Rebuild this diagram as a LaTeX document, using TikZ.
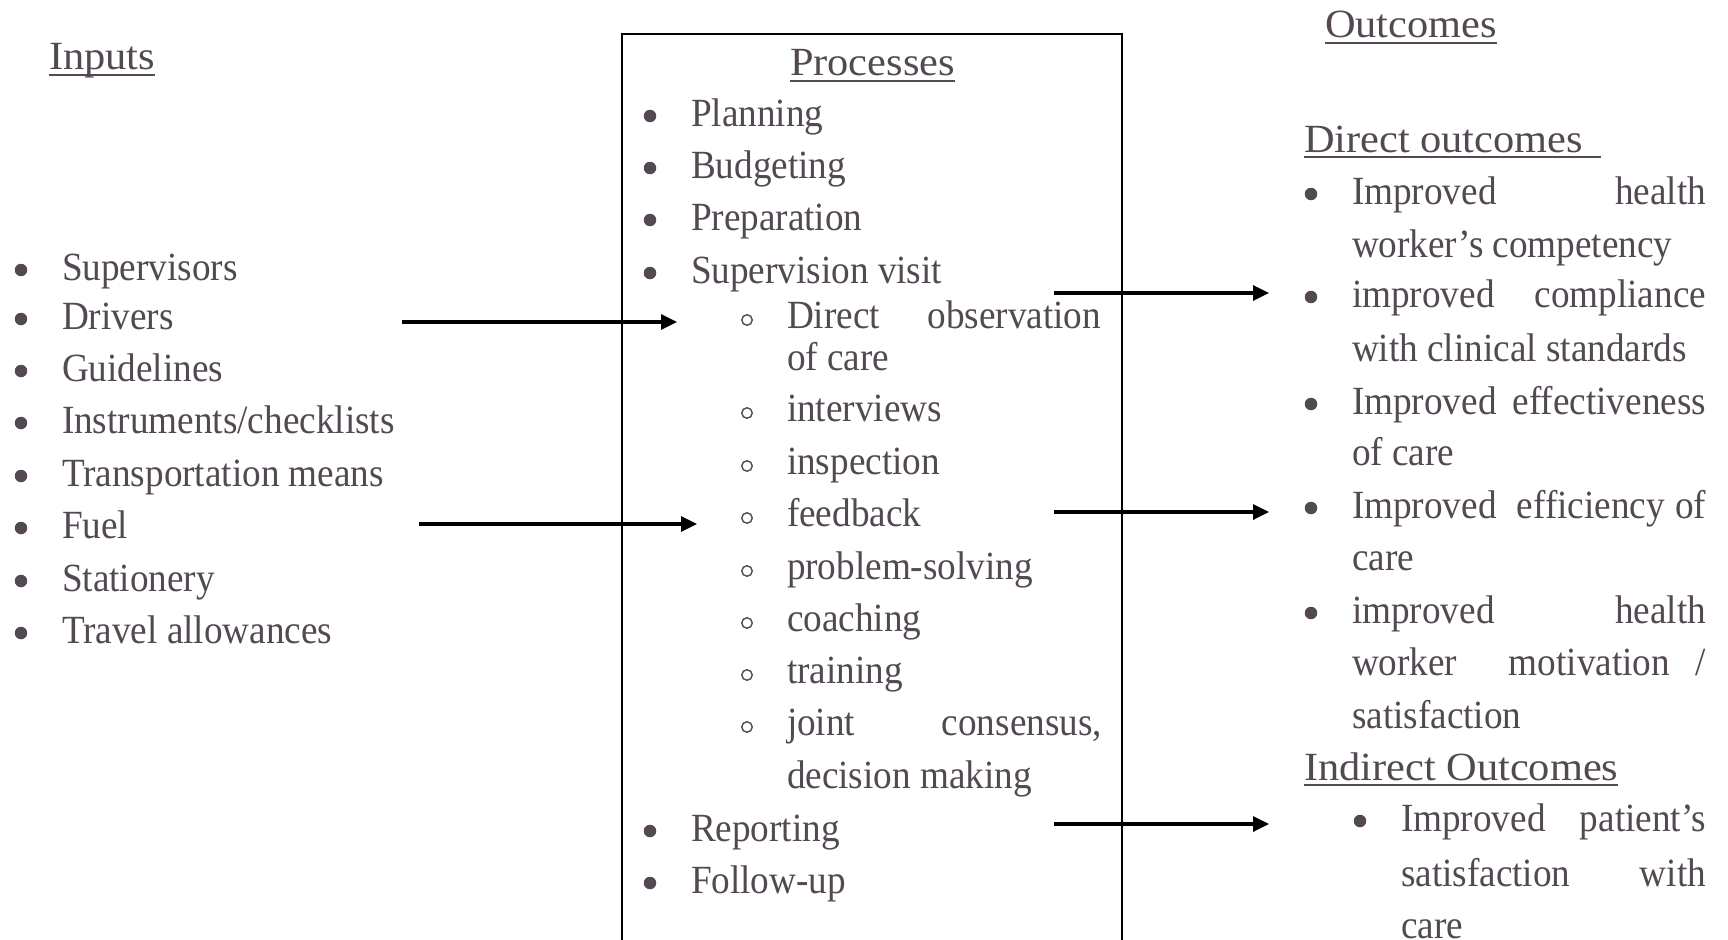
\documentclass[tikz,border=0pt]{standalone}
\usepackage{fontspec}
\setmainfont{Liberation Serif}
\newfontfamily\itemfont[FakeStretch=0.93]{Liberation Serif}
\newfontfamily\headfont[FakeStretch=1.06]{Liberation Serif}
\usetikzlibrary{arrows.meta,calc}
\definecolor{txt}{RGB}{82,73,82}
\tikzset{
  itm/.style={anchor=base west, inner sep=0pt, outer sep=0pt, text=txt, font=\itemfont\fontsize{40}{48}\selectfont},
  hd/.style={itm, font=\headfont\fontsize{40}{48}\selectfont},
  dotb/.style={circle, fill=txt, inner sep=0pt, minimum size=12.5pt},
  odotb/.style={circle, draw=txt, line width=1.4pt, inner sep=0pt, minimum size=10.5pt},
  arr/.style={line width=3.3pt, -{Triangle[length=16pt,width=15pt]}},
  uline/.style={draw=txt, line width=1.6pt},
  frame/.style={draw=black, line width=2pt}
}
\newcommand{\jline}[3]{\hbox to #1{#2\hfill #3}}
\begin{document}
\begin{tikzpicture}[x=1pt,y=-1pt]
\clip (0,0) rectangle (1728,939);
\fill[white] (0,0) rectangle (1728,939);

% ---------- Inputs ----------
\node[hd] (inp) at (49,70) {Inputs};
\draw[uline] ($(inp.base west)+(0,5)$) -- ($(inp.base east)+(0,5)$);

\foreach \n/\y/\t in {i1/280/{Supervisors}, i2/329/{Drivers}, i3/381/{Guidelines},
  i4/433/{Instruments/checklists}, i5/486/{Transportation means}, i6/538/{Fuel},
  i7/591/{Stationery}, i8/643/{Travel allowances}}{
  \node[dotb] (\n d) at (21,\y-10) {};
  \node[itm] (\n) at (62,\y) {\t};
}

% ---------- Processes box ----------
\draw[frame] (622,34) rectangle (1122,1000);
\node[hd] (proc) at (790,76) {Processes};
\draw[uline] ($(proc.base west)+(0,5)$) -- ($(proc.base east)+(0,5)$);

\foreach \n/\y/\t in {p1/126/{Planning}, p2/178/{Budgeting}, p3/230/{Preparation},
  p4/283/{Supervision visit}, p5/841/{Reporting}, p6/893/{Follow-up}}{
  \node[dotb] (\n d) at (650,\y-10) {};
  \node[itm] (\n) at (691,\y) {\t};
}

\node[odotb] (s1d) at (747,328-8) {};
\node[itm] (s1) at (787,328) {\jline{314pt}{Direct}{observation}};
\node[itm] (s1b) at (787,370) {of care};
\foreach \n/\y/\t in {s2/421/{interviews}, s3/474/{inspection}, s4/526/{feedback},
  s5/579/{problem-solving}, s6/631/{coaching}, s7/683/{training}}{
  \node[odotb] (\n d) at (747,\y-8) {};
  \node[itm] (\n) at (787,\y) {\t};
}
\node[odotb] (s8d) at (747,735-8) {};
\node[itm] (s8) at (787,735) {\jline{315pt}{joint}{consensus,}};
\node[itm] (s8b) at (787,788) {decision making};

% ---------- Outcomes ----------
\node[hd] (out) at (1325,38) {Outcomes};
\draw[uline] ($(out.base west)+(0,5)$) -- ($(out.base east)+(0,5)$);

\node[hd] (dir) at (1304,152) {Direct outcomes\hspace*{18pt}};
\draw[uline] ($(dir.base west)+(0,5)$) -- ($(dir.base east)+(0,5)$);

\node[dotb] (o1d) at (1311,204-10) {};
\node[itm] (o1) at (1352,204) {\jline{354pt}{Improved}{health}};
\node[itm] (o1b) at (1352,257) {worker’s competency};
\node[dotb] (o2d) at (1311,307-10) {};
\node[itm] (o2) at (1352,307) {\jline{354pt}{improved}{compliance}};
\node[itm] (o2b) at (1352,361) {with clinical standards};
\node[dotb] (o3d) at (1311,414-10) {};
\node[itm] (o3) at (1352,414) {\jline{354pt}{Improved}{effectiveness}};
\node[itm] (o3b) at (1352,465) {of care};
\node[dotb] (o4d) at (1311,518-10) {};
\node[itm] (o4) at (1352,518) {\jline{354pt}{Improved}{\hfill efficiency\hfill of}};
\node[itm] (o4b) at (1352,570) {care};
\node[dotb] (o5d) at (1311,623-10) {};
\node[itm] (o5) at (1352,623) {\jline{354pt}{improved}{health}};
\node[itm] (o5b) at (1352,675) {\jline{354pt}{worker}{\hfill motivation\hfill /}};
\node[itm] (o5c) at (1352,728) {satisfaction};

\node[hd] (ind) at (1304,780) {Indirect Outcomes};
\draw[uline] ($(ind.base west)+(0,5)$) -- ($(ind.base east)+(0,5)$);

\node[dotb] (o6d) at (1360,831-10) {};
\node[itm] (o6) at (1401,831) {\jline{305pt}{Improved}{patient’s}};
\node[itm] (o6b) at (1401,886) {\jline{305pt}{satisfaction}{with}};
\node[itm] (o6c) at (1401,938) {care};

% ---------- Arrows ----------
\coordinate (a1s) at (402,322);  \coordinate (a1e) at (677,322);
\coordinate (a2s) at (419,524);  \coordinate (a2e) at (697,524);
\coordinate (b1s) at (1054,293); \coordinate (b1e) at (1269,293);
\coordinate (b2s) at (1054,512); \coordinate (b2e) at (1269,512);
\coordinate (b3s) at (1054,824); \coordinate (b3e) at (1269,824);
\draw[arr] (a1s) -- (a1e);
\draw[arr] (a2s) -- (a2e);
\draw[arr] (b1s) -- (b1e);
\draw[arr] (b2s) -- (b2e);
\draw[arr] (b3s) -- (b3e);
\end{tikzpicture}
\end{document}
